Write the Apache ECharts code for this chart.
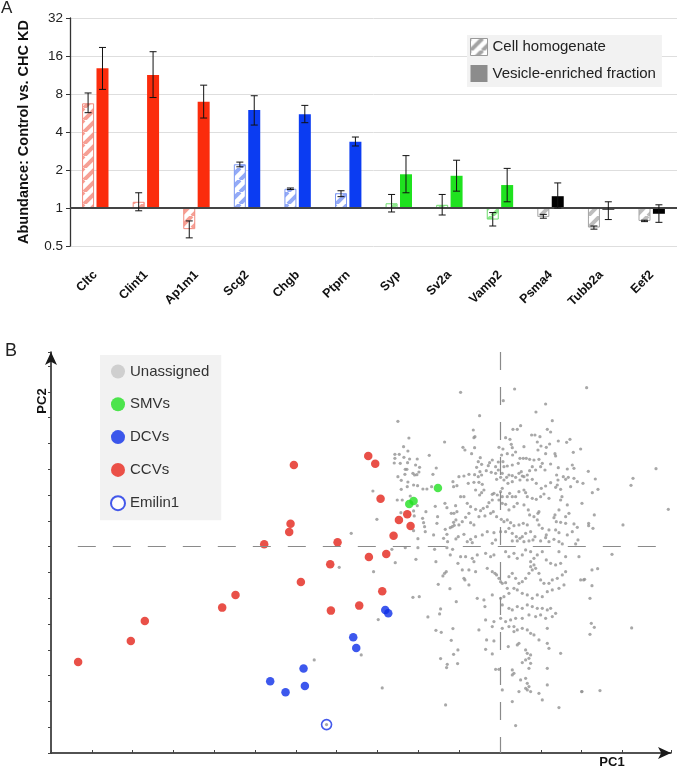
<!DOCTYPE html>
<html><head><meta charset="utf-8">
<script src="https://cdn.jsdelivr.net/npm/echarts@6/dist/echarts.min.js"></script>
<style>html,body{margin:0;padding:0;background:#fff}#c{width:684px;height:768px}</style>
</head><body><div id="c"></div>
<script>
// ---------- Panel A data ----------
const categories = ['Cltc','Clint1','Ap1m1','Scg2','Chgb','Ptprn','Syp','Sv2a','Vamp2','Psma4','Tubb2a','Eef2'];
const groupOf = [0,0,0,1,1,1,2,2,2,3,3,3];
const homogenate = [6.75, 1.12, 0.68, 2.22, 1.42, 1.31, 1.09, 1.06, 0.81, 0.85, 0.70, 0.79];
const homLow     = [5.69, 0.95, 0.58, 2.12, 1.40, 1.23, 0.93, 0.88, 0.72, 0.83, 0.68, 0.78];
const homHigh    = [8.15, 1.32, 0.79, 2.31, 1.44, 1.37, 1.28, 1.28, 0.92, 0.89, 0.72, 0.80];
const vesicle    = [12.8, 11.3, 6.95, 5.97, 5.53, 3.35, 1.85, 1.80, 1.52, 1.24, 0.97, 0.90];
const vesLow     = [8.7, 7.5, 5.16, 4.54, 4.74, 3.10, 1.32, 1.36, 1.12, 1.00, 0.81, 0.77];
const vesHigh    = [18.7, 17.3, 9.4, 7.75, 6.5, 3.65, 2.60, 2.39, 2.06, 1.58, 1.12, 1.06];

// ---------- Panel B data (PC1, PC2 scores) ----------
const smvs = [[-186,176],[-272,128],[-259,137]];
const dcvs = [[-589,-366],[-689,-404],[-643,-437],[-585,-418],[-344,-190],[-335,-200],[-440,-272],[-431,-304]];
const ccvs = [[-618,245],[-395,272],[-374,249],[-358,144],[-628,69],[-632,44],[-707,7],[-487,13],[-303,80],[-278,97],[-268,62],[-319,33],[-509,-53],[-597,-106],[-393,-31],[-341,-22],[-793,-145],[-833,-183],[-507,-192],[-353,-134],[-422,-177],[-1065,-223],[-1107,-283],[-1265,-346]];
const emilin1 = [[-520,-534]];
const unassigned = [
[-306,376],[-273,326],[-166,314],[-289,300],[-276,287],[-315,277],[-302,277],[-315,265],[-288,268],[-271,263],[-248,263],[-212,274],[-317,251],[-299,250],[-277,252],[-253,245],[-241,238],[-284,232],[-279,232],[-261,220],[-256,215],[-249,216],[-243,224],[-306,210],[-285,217],[-296,199],[-276,194],[-278,180],[-259,185],[-247,183],[-231,173],[-219,173],[-205,180],[-201,217],[-191,236],[-296,172],[-141,195],[-129,183],[-139,180],[-269,152],[-308,140],[-293,140],[-248,123],[-222,105],[-194,121],[-165,130],[-159,117],[-133,123],[-146,100],[-138,100],[-129,105],[-259,107],[-257,92],[-297,102],[-232,85],[-229,72],[-226,60],[-224,45],[-259,48],[-246,24],[-187,90],[-189,70],[-139,73],[-143,60],[-137,64],[-132,80],[-149,57],[-164,52],[-159,37],[-199,35],[-169,25],[-157,15],[-132,23],[-125,30],[-369,82],[-446,40],[-381,167],
[-118,463],[44,473],[10,438],[-61,393],[108,404],[137,428],[157,378],[-80,350],[-75,330],[-78,327],[39,352],[52,352],[62,363],[142,352],[152,344],[95,335],[105,335],[120,330],[175,317],[200,313],[210,322],[-111,298],[-105,290],[-76,297],[-85,279],[-3,298],[9,293],[17,327],[30,322],[34,307],[37,297],[22,279],[5,275],[72,300],[112,314],[123,302],[139,298],[149,308],[114,290],[137,279],[165,279],[167,272],[220,283],[242,293],[79,265],[70,265],[89,262],[102,260],[117,262],[127,250],[97,240],[-59,267],[-65,255],[-55,247],[-70,238],[-23,260],[-31,252],[-35,243],[-13,240],[-5,254],[9,255],[12,240],[22,242],[37,245],[55,250],[60,265],[38,275],[47,284],[217,245],[222,235],[202,233],[175,237],[152,248],[135,230],[107,230],[122,240],[89,228],[82,215],[72,210],[57,220],[64,225],[47,208],[37,213],[27,215],[20,208],[7,220],[-5,230],[-13,220],[-26,223],[-41,228],[-60,225],[-55,215],[-65,210],[-76,216],[-93,217],[-108,212],[-123,210],[-95,190],[-78,193],[-63,193],[-53,187],[-48,170],[-55,162],[-61,155],[-73,170],[-10,202],[2,208],[12,200],[24,190],[37,195],[60,200],[67,212],[82,200],[97,202],[109,190],[124,175],[137,182],[152,192],[174,200],[170,215],[190,210],[197,202],[205,208],[222,205],[232,195],[212,180],[172,185],[167,178],[182,172],[186,150],[182,140],[202,125],[207,100],[197,90],[177,110],[165,95],[162,87],[169,75],[182,73],[197,70],[222,68],[232,58],[217,45],[234,20],[202,35],[177,42],[167,50],[162,22],[147,15],[137,27],[139,35],[147,50],[127,55],[117,65],[112,80],[102,90],[114,100],[117,105],[89,95],[85,110],[72,125],[52,130],[42,120],[27,110],[17,127],[7,130],[-3,140],[-18,160],[-23,157],[-8,155],[2,165],[7,175],[7,150],[22,150],[29,160],[37,150],[47,150],[57,165],[72,170],[77,162],[82,150],[97,145],[109,142],[122,150],[132,158],[147,145],[-23,140],[-33,132],[-38,120],[-50,115],[-58,108],[-73,112],[-88,120],[-98,130],[-108,150],[-118,150],[-93,100],[-103,88],[-113,75],[-123,65],[-88,72],[-78,65],[-63,90],[-45,92],[-28,100],[-20,105],[-10,90],[4,82],[12,75],[22,80],[32,72],[42,63],[57,65],[70,70],[82,65],[92,45],[77,40],[67,30],[60,25],[49,30],[37,40],[27,55],[17,45],[2,45],[-18,42],[-38,45],[-53,35],[-73,30],[-88,22],[-98,15],[-83,12],[-108,37],[-13,20],[-23,10],[37,17],[52,17],[72,15],[87,17],[99,20],[105,30],[122,17],[177,15],[187,8],[227,8],
[260,477],[468,234],[265,226],[286,203],[399,205],[393,184],[249,190],[294,172],[277,162],[246,130],[505,112],[283,95],[266,70],[266,63],[279,55],[369,65],
[-324,-8],[-284,-3],[-246,-3],[-196,-8],[-159,-3],[-142,-8],[-149,-25],[-126,-50],[-314,-48],[-252,-38],[-192,-45],[-482,-62],[-379,-75],[-161,-75],[-166,-80],[-171,-88],[-185,-113],[-150,-126],[-131,-165],[-261,-152],[-242,-150],[-178,-187],[-181,-202],[-216,-211],[-365,-219],[-141,-246],[-192,-251],[-176,-257],[-146,-281],[-126,-310],[-139,-323],[-178,-336],[-158,-353],[-160,-363],[-127,-351],[-416,-325],[-353,-424],[-163,-475],
[-118,-30],[-103,-30],[-83,-35],[-68,-25],[-78,-45],[-113,-70],[-93,-70],[-73,-75],[-108,-95],[-93,-115],[-105,-100],[-43,-20],[-28,-30],[-18,-25],[17,-15],[27,-30],[42,-20],[52,-35],[67,-25],[77,-10],[92,-15],[102,-35],[112,-25],[127,-15],[139,-40],[152,-50],[167,-55],[182,-50],[197,-30],[177,-15],[237,-30],[242,-100],[-38,-65],[-23,-75],[-15,-80],[-10,-85],[-3,-95],[2,-105],[7,-110],[17,-108],[27,-90],[37,-80],[47,-95],[57,-110],[67,-105],[77,-95],[87,-80],[97,-70],[107,-65],[117,-80],[92,-60],[102,-55],[92,-45],[122,-100],[132,-110],[147,-110],[157,-100],[172,-95],[187,-85],[197,-75],[192,-115],[177,-125],[157,-130],[142,-135],[127,-150],[112,-145],[97,-155],[82,-145],[67,-140],[52,-130],[42,-125],[27,-140],[22,-125],[12,-150],[2,-155],[-23,-145],[-68,-155],[-48,-160],[-45,-180],[7,-175],[27,-185],[37,-190],[52,-180],[67,-185],[82,-175],[97,-180],[112,-185],[127,-185],[142,-190],[152,-185],[167,-200],[157,-210],[137,-215],[122,-205],[107,-210],[87,-205],[67,-215],[47,-215],[32,-220],[17,-225],[2,-215],[-18,-225],[-23,-240],[7,-245],[27,-240],[42,-240],[42,-255],[52,-250],[67,-245],[82,-250],[92,-260],[102,-265],[117,-280],[142,-245],[-43,-220],[-63,-250],[-40,-280],[-18,-283],[-43,-308],[-23,-322],[25,-300],[52,-295],[57,-290],[77,-310],[82,-320],[92,-325],[87,-335],[77,-340],[92,-350],[67,-348],[142,-290],[147,-305],[182,-320],[-13,-368],[-3,-368],[37,-370],[42,-380],[37,-385],[87,-365],[142,-365],[77,-395],[62,-400],[82,-410],[87,-420],[77,-425],[82,-430],[92,-435],[57,-435],[7,-430],[37,-465],[117,-440],[127,-460],[142,-415],[245,-435],[177,-483],[47,-537],
[336,-23],[276,-70],[293,-66],[251,-100],[254,-98],[276,-117],[270,-155],[274,-230],[283,-242],[270,-263],[395,-244],[246,-435],[300,-432],
[-557,-340],[-520,-534]
];

// ---------- styles ----------
const FONT = 'Liberation Sans, Arial, sans-serif';
const solidColors  = ['#fb2c0c','#0b3cf2','#1fe21f','#000000'];
const stripeColors = ['#f6a095','#93aaf7','#8eea8e','#bdbdbd'];
const borderColors = ['#f28a7e','#7e99f2','#6fdc6f','#a5a5a5'];

function hatch(color, bg) {
  const s = 12;
  const c = document.createElement('canvas');
  c.width = s; c.height = s;
  const g = c.getContext('2d');
  g.fillStyle = bg || '#ffffff';
  g.fillRect(0, 0, s, s);
  g.strokeStyle = color;
  g.lineWidth = 4;
  g.beginPath();
  for (const k of [-s, 0, s]) { g.moveTo(k, s); g.lineTo(k + s, 0); }
  g.stroke();
  return { image: c, repeat: 'repeat' };
}
const hatchByGroup = stripeColors.map(c => hatch(c, '#ffffff'));

const homData = homogenate.map((v, i) => ({
  value: v,
  itemStyle: { color: hatchByGroup[groupOf[i]], borderColor: borderColors[groupOf[i]], borderWidth: 1 }
}));
const vesData = vesicle.map((v, i) => ({ value: v, itemStyle: { color: solidColors[groupOf[i]] } }));
const errData = [];
categories.forEach((c, i) => {
  errData.push([i, homLow[i], homHigh[i], 0]);
  errData.push([i, vesLow[i], vesHigh[i], 1]);
});

const chart = echarts.init(document.getElementById('c'), null, { renderer: 'canvas' });
const option = {
  animation: false,
  textStyle: { fontFamily: FONT },
  grid: [
    { left: 70, top: 18, width: 607, height: 228 },
    { left: 51, top: 352, width: 620, height: 401 }
  ],
  legend: [
    {
      orient: 'vertical', left: 467, top: 35, selectedMode: false,
      itemWidth: 17, itemHeight: 17, itemGap: 9,
      padding: [3, 6, 5, 3], backgroundColor: '#f2f2f2',
      textStyle: { fontSize: 15, color: '#222', fontFamily: FONT, lineHeight: 17 },
      data: [
        { name: 'Cell homogenate', icon: 'rect', itemStyle: { color: hatch('#a3a3a3', '#ffffff'), borderColor: '#9a9a9a', borderWidth: 1 } },
        { name: 'Vesicle-enriched fraction', icon: 'rect', itemStyle: { color: '#8c8c8c', borderWidth: 0 } }
      ]
    },
    {
      orient: 'vertical', left: 100, top: 355, selectedMode: false,
      itemWidth: 14, itemHeight: 14, itemGap: 17.8,
      padding: [9, 12, 9, 10], backgroundColor: '#f2f2f2',
      textStyle: { fontSize: 15, color: '#333', fontFamily: FONT, lineHeight: 14 },
      data: [
        { name: 'Unassigned', icon: 'circle', itemStyle: { color: '#c6c6c6' } },
        { name: 'SMVs', icon: 'circle', itemStyle: { color: '#22e022' } },
        { name: 'DCVs', icon: 'circle', itemStyle: { color: '#0c2ee8' } },
        { name: 'CCVs', icon: 'circle', itemStyle: { color: '#e8271b' } },
        { name: 'Emilin1', icon: 'circle', itemStyle: { color: '#ffffff', borderColor: '#1530e6', borderWidth: 2 } }
      ]
    }
  ],
  xAxis: [
    {
      gridIndex: 0, type: 'category', data: categories,
      axisLine: { show: false }, axisTick: { show: false },
      axisLabel: { interval: 0, rotate: 45, margin: 27, fontSize: 12.5, fontWeight: 'bold', color: '#111', fontFamily: FONT }
    },
    {
      gridIndex: 1, type: 'value', min: -1346.4, max: 513, interval: 122.4,
      axisLabel: { show: false }, splitLine: { show: false },
      axisTick: { show: true, inside: true, length: 3, lineStyle: { color: '#444' } },
      axisLine: { show: true, onZero: false, symbol: ['none', 'arrow'], symbolSize: [9, 13], lineStyle: { color: '#1a1a1a', width: 1.5 } }
    }
  ],
  yAxis: [
    {
      gridIndex: 0, type: 'log', logBase: 2, min: 0.5, max: 32, splitNumber: 6,
      name: 'Abundance: Control vs. CHC KD', nameLocation: 'middle', nameGap: 39,
      nameTextStyle: { fontSize: 14.5, fontWeight: 'bold', color: '#111', fontFamily: FONT },
      axisLine: { show: true, lineStyle: { color: '#333', width: 1.3 } },
      axisTick: { show: true, length: 4, lineStyle: { color: '#333' } },
      axisLabel: { fontSize: 13.5, color: '#222', margin: 7, fontFamily: FONT },
      splitLine: { show: true, lineStyle: { color: '#dedede', width: 1 } }
    },
    {
      gridIndex: 1, type: 'value', min: -619.2, max: 584, interval: 77.4,
      axisLabel: { show: false }, splitLine: { show: false },
      axisTick: { show: true, length: 3, lineStyle: { color: '#444' } },
      axisLine: { show: true, onZero: false, symbol: ['none', 'arrow'], symbolSize: [9, 13], lineStyle: { color: '#1a1a1a', width: 1.5 } }
    }
  ],
  series: [
    {
      name: 'Cell homogenate', type: 'bar', xAxisIndex: 0, yAxisIndex: 0,
      barWidth: 12, barGap: '20%', itemStyle: { color: '#a3a3a3' }, data: homData, z: 2
    },
    {
      name: 'Vesicle-enriched fraction', type: 'bar', xAxisIndex: 0, yAxisIndex: 0,
      barWidth: 12, barGap: '20%', itemStyle: { color: '#8c8c8c' }, data: vesData, z: 2,
      markLine: {
        silent: true, symbol: 'none', label: { show: false }, z: 4,
        lineStyle: { color: '#444', width: 2, type: 'solid' },
        data: [{ yAxis: 1 }]
      }
    },
    {
      name: 'error', type: 'custom', xAxisIndex: 0, yAxisIndex: 0, z: 5,
      encode: { x: 0, y: [1, 2] },
      data: errData,
      renderItem: function (params, api) {
        const i = api.value(0), lo = api.value(1), hi = api.value(2), side = api.value(3);
        const a = api.coord([i, hi]), b = api.coord([i, lo]);
        const x = a[0] + (side ? 7.2 : -7.2);
        const cap = 3.5;
        const st = { stroke: '#111', lineWidth: 1 };
        return {
          type: 'group', children: [
            { type: 'line', shape: { x1: x, y1: a[1], x2: x, y2: b[1] }, style: st },
            { type: 'line', shape: { x1: x - cap, y1: a[1], x2: x + cap, y2: a[1] }, style: st },
            { type: 'line', shape: { x1: x - cap, y1: b[1], x2: x + cap, y2: b[1] }, style: st }
          ]
        };
      }
    },
    {
      name: 'Emilin1', type: 'scatter', xAxisIndex: 1, yAxisIndex: 1, z: 2,
      symbol: 'circle', symbolSize: 10,
      itemStyle: { color: '#ffffff', borderColor: '#1530e6', borderWidth: 1.6 },
      data: emilin1
    },
    {
      name: 'Unassigned', type: 'scatter', xAxisIndex: 1, yAxisIndex: 1, z: 3,
      symbol: 'circle', symbolSize: 3.2,
      itemStyle: { color: '#929292' },
      data: unassigned,
      markLine: {
        silent: true, symbol: 'none', label: { show: false },
        lineStyle: { color: '#8a8a8a', width: 1.2, type: [18, 17] },
        data: [
          [{ coord: [-1266, 0] }, { coord: [513, 0] }],
          [{ coord: [0, 584] }, { coord: [0, -619.2] }]
        ]
      }
    },
    {
      name: 'SMVs', type: 'scatter', xAxisIndex: 1, yAxisIndex: 1, z: 4,
      symbol: 'circle', symbolSize: 8.5, itemStyle: { color: '#22e022' }, data: smvs
    },
    {
      name: 'DCVs', type: 'scatter', xAxisIndex: 1, yAxisIndex: 1, z: 4,
      symbol: 'circle', symbolSize: 8.5, itemStyle: { color: '#0c2ee8' }, data: dcvs
    },
    {
      name: 'CCVs', type: 'scatter', xAxisIndex: 1, yAxisIndex: 1, z: 4,
      symbol: 'circle', symbolSize: 8.5, itemStyle: { color: '#e3241a' }, data: ccvs
    }
  ],
  graphic: [
    { type: 'text', left: 1, top: 0, style: { text: 'A', fontSize: 17, fill: '#222', fontFamily: FONT } },
    { type: 'text', left: 5, top: 342, style: { text: 'B', fontSize: 18, fill: '#222', fontFamily: FONT } },
    { type: 'text', x: 42, y: 401, rotation: Math.PI / 2,
      style: { text: 'PC2', fontSize: 13, fontWeight: 'bold', fill: '#111', fontFamily: FONT, align: 'center', verticalAlign: 'middle' } },
    { type: 'text', x: 612, y: 762, style: { text: 'PC1', fontSize: 13, fontWeight: 'bold', fill: '#111', fontFamily: FONT, align: 'center', verticalAlign: 'middle' } }
  ]
};
chart.setOption(option);
</script>
</body></html>
